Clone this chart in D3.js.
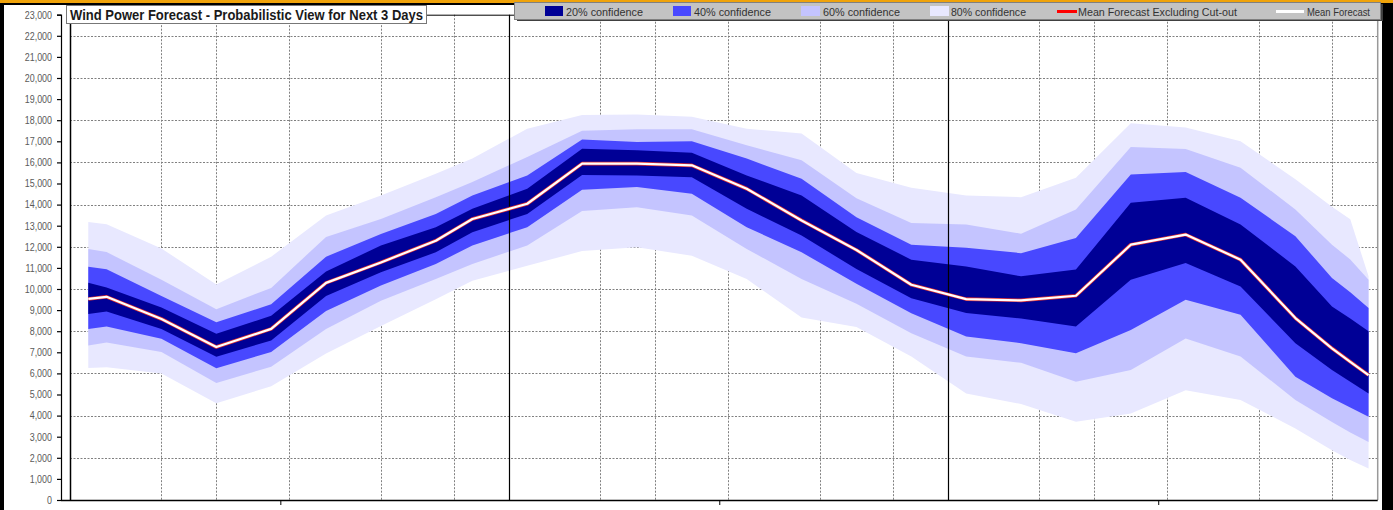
<!DOCTYPE html>
<html><head><meta charset="utf-8">
<script src="https://cdn.jsdelivr.net/npm/d3@7"></script>
<style>
html,body{margin:0;padding:0;background:#000;}
svg{display:block;}
</style></head>
<body>
<svg id="c" width="1393" height="510"></svg>
<script>
// ---- data (MW) ----
const hours = [1,2,5,8,11,14,17,20,22,25,28,31,34,37,40,43,46,49,52,55,58,61,64,67,69,70,71];
const meanF = [9530,9630,8580,7250,8110,10290,11260,12290,13320,14040,15940,15940,15860,14750,13250,11850,10200,9520,9460,9680,12100,12580,11390,8620,7190,6550,5920];
const hi20 = [10300,10070,9120,7880,8730,10830,12060,12930,13800,14750,16650,16570,16460,15380,14430,12700,11390,11070,10600,10920,14090,14320,13060,11070,9170,8600,8000];
const lo20 = [8820,8930,8100,6790,7560,9670,10790,11740,12690,13560,15400,15380,15300,13800,12530,10950,9560,8860,8600,8220,10440,11230,10120,7430,6160,5600,5050];
const hi40 = [11050,10940,9670,8420,9280,11530,12610,13560,14430,15380,17080,16970,17000,16180,15230,13400,12100,11950,11700,12420,15430,15540,14320,12500,10520,9850,9100];
const lo40 = [8100,8220,7640,6240,7020,8960,10160,11190,12060,12930,14700,14830,14510,12930,11740,10250,8850,7750,7430,6950,8060,9490,8780,5840,4820,4380,3940];
const hi60 = [11900,11750,10440,9040,10050,12470,13320,14350,15070,16260,17500,17570,17570,16810,16100,14300,13130,13060,12620,13770,16730,16640,15750,13770,12100,11400,10440];
const lo60 = [7320,7460,7020,5540,6320,8110,9440,10470,11190,12060,13700,13880,13480,11900,10470,9300,7900,6800,6500,5610,6160,7650,6800,4740,3700,3200,2750];
const hi80 = [13180,13070,11920,10210,11530,13480,14430,15460,16180,17600,18250,18270,18160,17600,17370,15500,14800,14430,14350,15270,17860,17650,17000,15200,13900,13300,10600];
const lo80 = [6260,6290,6000,4580,5390,6940,8250,9520,10390,11100,11800,11980,11580,10470,8650,8200,6800,5050,4550,3710,4100,5200,4740,3390,2360,1900,1490];
const yTicks = d3.range(0, 23001, 1000);
const gridHours = [5,8,12,17,21,29,32,36,41,45,53,56,60,65,69];
const dayHours = [24,48];
const xTickHours = [11.5,35.5,59.5];
const legendItems = [
  {label:"20% confidence", type:"box", color:"#000096"},
  {label:"40% confidence", type:"box", color:"#4848ff"},
  {label:"60% confidence", type:"box", color:"#c4c4ff"},
  {label:"80% confidence", type:"box", color:"#e8e8ff"},
  {label:"Mean Forecast Excluding Cut-out", type:"line", color:"#ff0000"},
  {label:"Mean Forecast", type:"line", color:"#ffffff"}
];
const titleText = "Wind Power Forecast - Probabilistic View for Next 3 Days";

// ---- layout ----
const svg = d3.select("#c");
const L = 70, R = 1377.7, T = 14.7, B = 500;
const x = d3.scaleLinear().domain([0, 71.5]).range([L, R]);
const y = d3.scaleLinear().domain([0, 23000]).range([B, T]);
const FONT = "'Liberation Sans','Arial',sans-serif";

// backgrounds
svg.append("rect").attr("x",0).attr("y",0).attr("width",1393).attr("height",510).attr("fill","#000");
svg.append("rect").attr("x",0).attr("y",0).attr("width",1393).attr("height",3).attr("fill","#f0a30a");
svg.append("rect").attr("x",4).attr("y",5).attr("width",1378).attr("height",505).attr("fill","#fff");

// grid
const g = svg.append("g");
yTicks.filter(v => v>0 && v<23000 && v%2000===0).forEach(v=>{
  g.append("line").attr("x1",L).attr("x2",R).attr("y1",Math.round(y(v))+0.5).attr("y2",Math.round(y(v))+0.5)
   .attr("stroke","#808080").attr("stroke-width",1).attr("stroke-dasharray","2,1.5");
});
gridHours.forEach(h=>{
  g.append("line").attr("y1",T).attr("y2",B).attr("x1",Math.round(x(h))+0.5).attr("x2",Math.round(x(h))+0.5)
   .attr("stroke","#808080").attr("stroke-width",1).attr("stroke-dasharray","2,1.5");
});

// bands
const idx = d3.range(hours.length);
const band = (lo, hi) => d3.area().x(i=>x(hours[i])).y0(i=>y(lo[i])).y1(i=>y(hi[i]));
const bands = [
  [lo80, hi80, "#e8e8ff"],
  [lo60, hi60, "#c4c4ff"],
  [lo40, hi40, "#4848ff"],
  [lo20, hi20, "#000096"]
];
bands.forEach(([lo,hi,c])=>{
  g.append("path").attr("d", band(lo,hi)(idx)).attr("fill", c);
});

// day separators
dayHours.forEach(h=>{
  g.append("line").attr("y1",T).attr("y2",B).attr("x1",Math.round(x(h))+0.5).attr("x2",Math.round(x(h))+0.5)
   .attr("stroke","#000").attr("stroke-width",1.2);
});

// mean lines
const line = d3.line().x(i=>x(hours[i])).y(i=>y(meanF[i]));
g.append("path").attr("d",line(idx)).attr("fill","none").attr("stroke","#e03030").attr("stroke-width",3.6).attr("stroke-linejoin","round");
g.append("path").attr("d",line(idx)).attr("fill","none").attr("stroke","#fff").attr("stroke-width",2.2).attr("stroke-linejoin","round");

// frame
svg.append("line").attr("x1",L+0.5).attr("x2",L+0.5).attr("y1",T).attr("y2",B).attr("stroke","#000").attr("stroke-width",1.5);
svg.append("line").attr("x1",L).attr("x2",R).attr("y1",T+0.5).attr("y2",T+0.5).attr("stroke","#000").attr("stroke-width",1);
svg.append("line").attr("x1",R).attr("x2",R).attr("y1",T).attr("y2",B).attr("stroke","#999").attr("stroke-width",1.5);

// y axis
const yAxis = d3.axisLeft(y).tickValues(yTicks).tickSize(4).tickPadding(5).tickFormat(d3.format(","));
const ya = svg.append("g").attr("transform","translate(61,0)").call(yAxis);
ya.select(".domain").attr("stroke","#000").attr("stroke-width",1.2);
ya.selectAll(".tick line").attr("stroke","#000").attr("stroke-width",1.2);
ya.selectAll("text").attr("font-family",FONT).attr("font-size",10.5).attr("fill","#5a5a5a")
  .attr("x",-9/0.85).attr("transform","scale(0.85,1)");

// x axis
const xAxis = d3.axisBottom(x).tickValues(xTickHours).tickSize(5).tickFormat("");
const xa = svg.append("g").attr("transform",`translate(0,${B})`).call(xAxis);
xa.select(".domain").attr("d",`M61,0.5H${R}`).attr("stroke","#000").attr("stroke-width",1.5);
xa.selectAll(".tick line").attr("stroke","#000");

// title
svg.append("rect").attr("x",66.5).attr("y",5.5).attr("width",360).attr("height",18).attr("fill","#fff").attr("stroke","#777");
svg.append("text").attr("x",70).attr("y",19.5).attr("font-family",FONT).attr("font-weight","bold").attr("font-size",14)
  .attr("fill","#1a1a1a").attr("textLength",353).attr("lengthAdjust","spacingAndGlyphs").text(titleText);

// legend
svg.append("rect").attr("x",517).attr("y",4).attr("width",866).attr("height",17).attr("fill","#404040");
svg.append("rect").attr("x",514.5).attr("y",2.5).attr("width",866).attr("height",17).attr("fill","#c3c3c3").attr("stroke","#808080");
const legSwatch = [[545,563],[673,691],[801,820],[930,949],[1057,1077],[1276,1304]];
const legText = [[566,643],[694,771],[823,900],[951,1026],[1078,1237],[1307,1370]];
legendItems.forEach((it,i)=>{
  const [s0,s1] = legSwatch[i];
  if (it.type==="box") {
    svg.append("rect").attr("x",s0).attr("y",6).attr("width",s1-s0).attr("height",10).attr("fill",it.color);
  } else {
    svg.append("line").attr("x1",s0).attr("x2",s1).attr("y1",11.5).attr("y2",11.5).attr("stroke",it.color).attr("stroke-width",3);
  }
  const [t0,t1] = legText[i];
  svg.append("text").attr("x",t0).attr("y",15.5).attr("font-family",FONT).attr("font-size",11.5).attr("fill","#333")
    .attr("textLength",t1-t0).attr("lengthAdjust","spacingAndGlyphs").text(it.label);
});
</script>
</body></html>
